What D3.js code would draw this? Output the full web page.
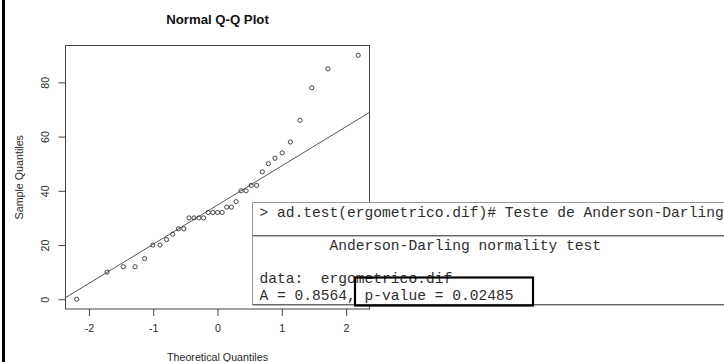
<!DOCTYPE html>
<html>
<head>
<meta charset="utf-8">
<script src="https://cdn.jsdelivr.net/npm/d3@7"></script>
<style>
  html, body { margin: 0; padding: 0; background: #fff; }
  svg { display: block; }
</style>
</head>
<body>
<svg id="chart" width="724" height="362"></svg>
<script>
// Theoretical normal quantiles for n = 35 (ppoints), ascending
const theoreticalQ = [
  -2.189, -1.718, -1.466, -1.282, -1.133, -1.006, -0.894, -0.792, -0.697,
  -0.608, -0.524, -0.444, -0.366, -0.290, -0.216, -0.144, -0.072, 0.000,
   0.072,  0.144,  0.216,  0.290,  0.366,  0.444,  0.524,  0.608,  0.697,
   0.792,  0.894,  1.006,  1.133,  1.282,  1.466,  1.718,  2.189
];
// Sorted sample values (ergometrico.dif)
const sampleQ = [
  0, 10, 12, 12, 15, 20, 20, 22, 24, 26, 26, 30, 30, 30, 30, 32, 32, 32,
  32, 34, 34, 36, 40, 40, 42, 42, 47, 50, 52, 54, 58, 66, 78, 85, 90
];
const xTicks = [-2, -1, 0, 1, 2];
const yTicks = [0, 20, 40, 60, 80];

const titleText = "Normal Q-Q Plot";
const xLabel = "Theoretical Quantiles";
const yLabel = "Sample Quantiles";

// R console excerpt shown over the plot
const consoleCommand = "> ad.test(ergometrico.dif)# Teste de Anderson-Darling";
const consoleTitle = "        Anderson-Darling normality test";
const consoleData = "data:  ergometrico.dif";
const consoleStat = "A = 0.8564, p-value = 0.02485";

const svg = d3.select("#chart");

// plot region
const plotLeft = 65.5, plotRight = 369.5, plotTop = 45.5, plotBottom = 309;

// R pads each axis range by 4%
function padded(ext) {
  const d = (ext[1] - ext[0]) * 0.04;
  return [ext[0] - d, ext[1] + d];
}
const x = d3.scaleLinear().domain(padded(d3.extent(theoreticalQ))).range([plotLeft, plotRight]);
const y = d3.scaleLinear().domain(padded(d3.extent(sampleQ))).range([plotBottom, plotTop]);

const ink = "#2a2a2a";
const sans = "'Liberation Sans', Arial, sans-serif";
const plainNum = d => String(d);   // ASCII hyphen for negatives, as R prints them

// title
svg.append("text")
  .attr("x", (plotLeft + plotRight) / 2).attr("y", 23.5)
  .attr("text-anchor", "middle")
  .style("font-family", sans)
  .style("font-weight", "bold").style("font-size", "13.2px")
  .attr("fill", "#111")
  .text(titleText);

// plot frame
svg.append("rect")
  .attr("x", plotLeft).attr("y", plotTop)
  .attr("width", plotRight - plotLeft).attr("height", plotBottom - plotTop)
  .attr("fill", "none").attr("stroke", "#444").attr("stroke-width", 1);

// x axis
const gx = svg.append("g")
  .attr("transform", `translate(0,${plotBottom})`)
  .call(d3.axisBottom(x).tickValues(xTicks).tickSize(7).tickPadding(8.5)
    .tickFormat(plainNum));
gx.select(".domain").remove();
gx.selectAll("line").attr("stroke", "#444");
gx.selectAll("text")
  .style("font-family", sans)
  .style("font-size", "10.7px").attr("fill", ink);

// y axis with rotated labels
const gy = svg.append("g")
  .attr("transform", `translate(${plotLeft},0)`)
  .call(d3.axisLeft(y).tickValues(yTicks).tickSize(7).tickFormat(plainNum));
gy.select(".domain").remove();
gy.selectAll("line").attr("stroke", "#444");
gy.selectAll("text")
  .attr("x", null).attr("dy", "0.35em")
  .attr("text-anchor", "middle")
  .attr("transform", "translate(-20.5,0) rotate(-90)")
  .style("font-family", sans)
  .style("font-size", "10.7px").attr("fill", ink);

// axis titles
svg.append("text")
  .attr("x", (plotLeft + plotRight) / 2).attr("y", 360.5)
  .attr("text-anchor", "middle")
  .style("font-family", sans)
  .style("font-size", "10.7px").attr("fill", ink)
  .text(xLabel);
svg.append("text")
  .attr("transform", `translate(19.5,${(plotTop + plotBottom) / 2}) rotate(-90)`)
  .attr("dy", "0.35em")
  .attr("text-anchor", "middle")
  .style("font-family", sans)
  .style("font-size", "10.7px").attr("fill", ink)
  .text(yLabel);

// reference line through the first and third quartiles (qqline)
const q1 = d3.quantile(sampleQ, 0.25), q3 = d3.quantile(sampleQ, 0.75);
const z75 = 0.6744898;
const slope = (q3 - q1) / (2 * z75);
const intercept = q1 + slope * z75;
const [xd0, xd1] = x.domain();
svg.append("defs").append("clipPath").attr("id", "plotClip")
  .append("rect").attr("x", plotLeft).attr("y", plotTop)
  .attr("width", plotRight - plotLeft).attr("height", plotBottom - plotTop);
svg.append("line")
  .attr("clip-path", "url(#plotClip)")
  .attr("x1", x(xd0)).attr("y1", y(intercept + slope * xd0))
  .attr("x2", x(xd1)).attr("y2", y(intercept + slope * xd1))
  .attr("stroke", "#555").attr("stroke-width", 1);

// sample points
svg.append("g").selectAll("circle")
  .data(sampleQ.map((v, i) => [theoreticalQ[i], v]))
  .join("circle")
  .attr("cx", d => x(d[0])).attr("cy", d => y(d[1]))
  .attr("r", 2.1)
  .attr("fill", "none").attr("stroke", "#333").attr("stroke-width", 0.9);

// console panel
const panel = svg.append("g");
const px0 = 252.5, py0 = 202.5, py1 = 305;
panel.append("rect")
  .attr("x", px0).attr("y", py0).attr("width", 724 - px0 + 2).attr("height", py1 - py0)
  .attr("fill", "#fff");
panel.append("line").attr("x1", px0).attr("x2", 724).attr("y1", py0).attr("y2", py0)
  .attr("stroke", "#999");
panel.append("line").attr("x1", px0).attr("x2", px0).attr("y1", py0).attr("y2", py1)
  .attr("stroke", "#999");
panel.append("line").attr("x1", px0).attr("x2", 724).attr("y1", 235.5).attr("y2", 235.5)
  .attr("stroke", "#666");
panel.append("line").attr("x1", px0).attr("x2", 724).attr("y1", 236.5).attr("y2", 236.5)
  .attr("stroke", "#bbb");
panel.append("line").attr("x1", px0).attr("x2", 724).attr("y1", 304.5).attr("y2", 304.5)
  .attr("stroke", "#666");
panel.append("line").attr("x1", px0).attr("x2", 724).attr("y1", 305.5).attr("y2", 305.5)
  .attr("stroke", "#bbb");

const consoleLines = [
  [consoleCommand, 216.5],
  [consoleTitle, 249.5],
  [consoleData, 282.5],
  [consoleStat, 299.5]
];
panel.selectAll("text.console")
  .data(consoleLines)
  .join("text")
  .attr("class", "console")
  .attr("x", 259.5).attr("y", d => d[1])
  .style("white-space", "pre")
  .style("font-family", "'Liberation Mono', 'Courier New', monospace")
  .style("font-size", "14.6px")
  .attr("fill", "#2e2e2e")
  .text(d => d[0]);

// highlight around the p-value
panel.append("rect")
  .attr("x", 355).attr("y", 277.5).attr("width", 178).attr("height", 28)
  .attr("fill", "none").attr("stroke", "#000").attr("stroke-width", 2.2);

// left edge rule
svg.append("rect").attr("x", 2).attr("y", 0).attr("width", 3).attr("height", 362)
  .attr("fill", "#000");
</script>
</body>
</html>
